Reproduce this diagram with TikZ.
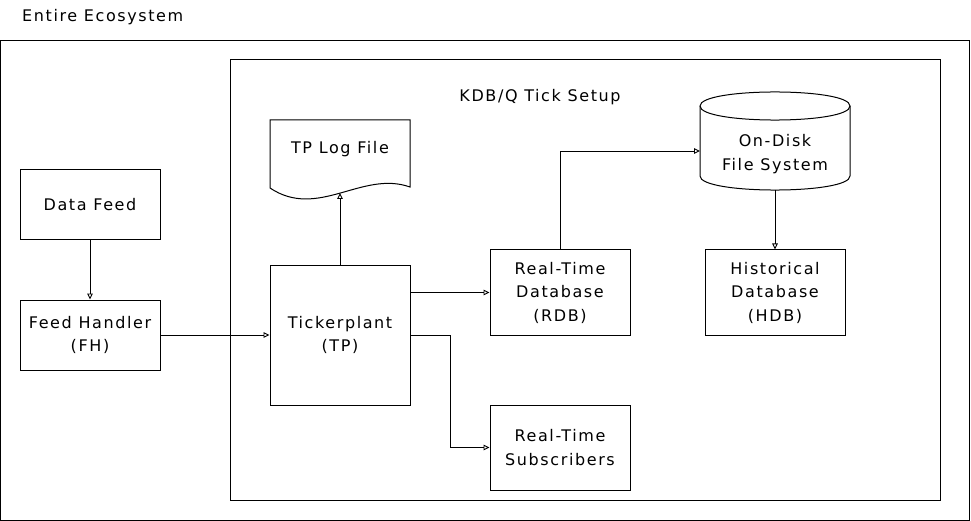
\documentclass[tikz,border=0pt]{standalone}
\usepackage{fontspec}
\setmainfont{DejaVu Sans}[LetterSpace=10]
\usetikzlibrary{arrows.meta}
\begin{document}
\begin{tikzpicture}[x=1pt,y=-1pt,
  txt/.style={font=\fontsize{16}{23.5}\selectfont,align=center,inner sep=0pt},
  box/.style={txt,draw,line width=1pt,minimum width=140pt},
  frame/.style={draw,line width=1pt},
  conn/.style={line width=0.9pt,-{Triangle[open,length=6pt,width=5.5pt]}}]
\useasboundingbox (0,0) rectangle (971,521);
% containers
\node[frame,minimum width=969pt,minimum height=479pt,inner sep=0pt] (eco) at (485,280.5) {};
\node[txt,anchor=base west] (ecolbl) at (22,22) {Entire Ecosystem};
\node[frame,minimum width=710pt,minimum height=440pt,inner sep=0pt] (tick) at (585,280) {};
\node[txt,anchor=base] (ticklbl) at (540,102) {KDB/Q Tick Setup};
% boxes
\node[box,minimum height=70pt] (df) at (90,205) {Data Feed};
\node[box,minimum height=70pt] (fh) at (90,335) {Feed Handler\\(FH)};
\node[box,minimum height=140pt] (tp) at (340,335) {Tickerplant\\(TP)};
\node[box,minimum height=85pt] (rdb) at (560,292.5) {Real-Time\\Database\\(RDB)};
\node[box,minimum height=85pt] (hdb) at (775,292.5) {Historical\\Database\\(HDB)};
\node[box,minimum height=85pt] (rts) at (560,447.5) {Real-Time\\Subscribers};
% TP log file (document shape)
\draw[line width=1pt] (270,120) -- (410,120) -- (410,187)
  .. controls (362,170) and (318,220) .. (270,188) -- cycle;
\node[txt] (log) at (340,149) {TP Log File};
\coordinate (logb) at (340,193);
% on-disk file system (cylinder)
\draw[line width=1pt] (700,106) -- (700,176) .. controls (700,194.7) and (850,194.7) .. (850,176) -- (850,106);
\draw[line width=1pt] (700,106) .. controls (700,87.3) and (850,87.3) .. (850,106)
  .. controls (850,124.7) and (700,124.7) .. (700,106);
\node[txt] (fs) at (775,154) {On-Disk\\File System};
\coordinate (fsl) at (700,151);
\coordinate (fsb) at (775,190);
% connectors
\draw[conn] (df.south) -- (fh.north);
\draw[conn] (fh.east) -- (tp.west);
\draw[conn] (tp.north) -- (logb);
\draw[conn] (tp.east |- rdb.west) -- (rdb.west);
\draw[conn] (tp.east) -- ++(40,0) |- (rts.west);
\draw[conn] (rdb.north) |- (fsl);
\draw[conn] (fsb) -- (hdb.north);
\end{tikzpicture}
\end{document}
